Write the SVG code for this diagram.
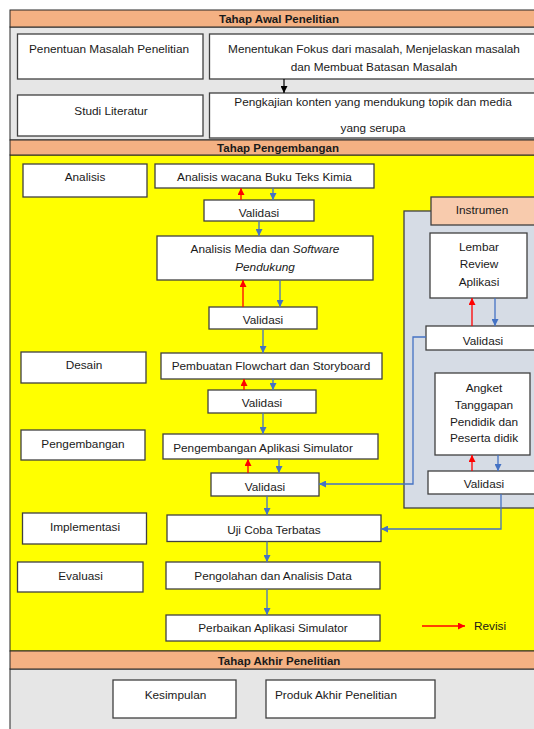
<svg xmlns="http://www.w3.org/2000/svg" width="534" height="729" viewBox="0 0 534 729">
<style>
text{font-family:"Liberation Sans",Arial,sans-serif;font-size:11.8px;fill:#1a1a1a;text-anchor:middle}
.h{font-weight:bold;font-size:11.5px}
.l{text-anchor:start}
.it{font-style:italic}
.box{fill:#fff;stroke:#404040;stroke-width:1.3}
.hdr{fill:#f4b183;stroke:#262626;stroke-width:1}
.b{stroke:#4472c4;stroke-width:1.3;fill:none}
.r{stroke:#ff0000;stroke-width:1.3;fill:none}
.k{stroke:#000;stroke-width:1.2;fill:none}
</style>
<defs>
<marker id="ab" viewBox="0 0 10 10" refX="10" refY="5" markerWidth="7" markerHeight="7" markerUnits="userSpaceOnUse" orient="auto"><path d="M0,0 L10,5 L0,10 z" fill="#4472c4"/></marker>
<marker id="ar" viewBox="0 0 10 10" refX="10" refY="5" markerWidth="7" markerHeight="7" markerUnits="userSpaceOnUse" orient="auto"><path d="M0,0 L10,5 L0,10 z" fill="#ff0000"/></marker>
<marker id="ak" viewBox="0 0 10 10" refX="10" refY="5" markerWidth="7" markerHeight="7" markerUnits="userSpaceOnUse" orient="auto"><path d="M0,0 L10,5 L0,10 z" fill="#000"/></marker>
</defs>
<rect width="534" height="729" fill="#fff"/>
<g id="sections">
<rect x="10" y="27" width="530" height="113" fill="#e6e6e6" stroke="#262626" stroke-width="1"/>
<rect x="10" y="155" width="530" height="496" fill="#ffff00" stroke="#262626" stroke-width="1"/>
<rect x="10" y="669" width="530" height="70" fill="#e6e6e6" stroke="#262626" stroke-width="1"/>
<rect class="hdr" x="10" y="10" width="530" height="17"/>
<text class="h" x="279" y="22.5">Tahap Awal Penelitian</text>
<rect class="hdr" x="10" y="140" width="530" height="15"/>
<text class="h" x="278" y="152">Tahap Pengembangan</text>
<rect class="hdr" x="10" y="651" width="530" height="18"/>
<text class="h" x="279" y="665">Tahap Akhir Penelitian</text>
</g>
<g id="n-penentuan"><rect class="box" x="17.5" y="34" width="185.5" height="45"/><text class="l" x="29" y="53">Penentuan Masalah Penelitian</text></g>
<g id="n-menentukan"><rect class="box" x="209.5" y="34" width="330" height="45"/><text x="374" y="53">Menentukan Fokus dari masalah, Menjelaskan masalah</text><text x="374" y="71">dan Membuat Batasan Masalah</text></g>
<g id="n-studi"><rect class="box" x="17.5" y="95" width="185.5" height="41"/><text x="111" y="115">Studi Literatur</text></g>
<g id="n-pengkajian"><rect class="box" x="209.5" y="93" width="330" height="45"/><text x="373" y="105.5">Pengkajian konten yang mendukung topik dan media</text><text x="373" y="132">yang serupa</text></g>
<g id="n-instrumen-panel"><rect x="404" y="211" width="136" height="297" fill="#d6dce5" stroke="#404040" stroke-width="1.3"/><rect x="431" y="197" width="109" height="28" fill="#f8cbad" stroke="#404040" stroke-width="1.3"/><text x="482" y="214">Instrumen</text></g>
<g id="n-analisis"><rect class="box" x="23" y="164" width="124" height="33"/><text x="85" y="181">Analisis</text></g>
<g id="n-wacana"><rect class="box" x="155" y="164" width="219" height="24"/><text x="264.5" y="181">Analisis wacana Buku Teks Kimia</text></g>
<g id="n-val1"><rect class="box" x="204" y="200" width="110" height="21"/><text x="259" y="217">Validasi</text></g>
<g id="n-media"><rect class="box" x="157" y="236" width="216" height="44"/><text x="265" y="253">Analisis Media dan <tspan class="it">Software</tspan></text><text class="it" x="265" y="271">Pendukung</text></g>
<g id="n-val2"><rect class="box" x="209" y="307" width="108" height="22"/><text x="263" y="324">Validasi</text></g>
<g id="n-desain"><rect class="box" x="21" y="352" width="125" height="31"/><text x="84" y="369">Desain</text></g>
<g id="n-flowchart"><rect class="box" x="161" y="353" width="221" height="26"/><text x="271" y="370">Pembuatan Flowchart dan Storyboard</text></g>
<g id="n-val3"><rect class="box" x="208" y="390" width="108" height="23"/><text x="262" y="407">Validasi</text></g>
<g id="n-pengembangan"><rect class="box" x="21" y="430" width="124" height="30"/><text x="83" y="448">Pengembangan</text></g>
<g id="n-aplikasi"><rect class="box" x="163" y="434" width="215" height="25"/><text x="263" y="452">Pengembangan Aplikasi Simulator</text></g>
<g id="n-val4"><rect class="box" x="211" y="473" width="108" height="23"/><text x="265" y="491">Validasi</text></g>
<g id="n-lembar"><rect class="box" x="430" y="233" width="97" height="65"/><text x="479" y="251">Lembar</text><text x="479" y="268">Review</text><text x="479" y="286">Aplikasi</text></g>
<g id="n-ival1"><rect class="box" x="426" y="326" width="114" height="24"/><text x="483" y="345">Validasi</text></g>
<g id="n-angket"><rect class="box" x="435" y="373" width="95" height="82"/><text x="484" y="392">Angket</text><text x="484" y="409">Tanggapan</text><text x="484" y="426">Pendidik dan</text><text x="484" y="442">Peserta didik</text></g>
<g id="n-ival2"><rect class="box" x="428" y="471" width="112" height="23"/><text x="484" y="488">Validasi</text></g>
<g id="n-implementasi"><rect class="box" x="22.5" y="513" width="124" height="31"/><text x="85" y="531">Implementasi</text></g>
<g id="n-ujicoba"><rect class="box" x="167" y="515" width="214" height="26.5"/><text x="274" y="533.5">Uji Coba Terbatas</text></g>
<g id="n-evaluasi"><rect class="box" x="17.5" y="562" width="125.5" height="30"/><text x="80.5" y="580">Evaluasi</text></g>
<g id="n-pengolahan"><rect class="box" x="166" y="562" width="214" height="27"/><text x="273" y="580">Pengolahan dan Analisis Data</text></g>
<g id="n-perbaikan"><rect class="box" x="166" y="615" width="214" height="26"/><text x="273" y="632">Perbaikan Aplikasi Simulator</text></g>
<g id="n-kesimpulan"><rect class="box" x="113" y="680" width="123" height="38"/><text x="175.5" y="698.5">Kesimpulan</text></g>
<g id="n-produk"><rect class="box" x="266" y="680" width="169" height="38"/><text class="l" x="275" y="698.5">Produk Akhir Penelitian</text></g>
<g id="n-legend"><line class="r" x1="422" y1="626" x2="465" y2="626" marker-end="url(#ar)"/><text class="l" x="474" y="630">Revisi</text></g>
<g id="connectors">
<line class="k" x1="284" y1="79" x2="284" y2="93" marker-end="url(#ak)"/>
<line class="r" x1="241" y1="200" x2="241" y2="188" marker-end="url(#ar)"/>
<line class="b" x1="273" y1="188" x2="273" y2="200" marker-end="url(#ab)"/>
<line class="b" x1="259" y1="221" x2="259" y2="236" marker-end="url(#ab)"/>
<line class="r" x1="243" y1="307" x2="243" y2="280" marker-end="url(#ar)"/>
<line class="b" x1="280" y1="280" x2="280" y2="307" marker-end="url(#ab)"/>
<line class="b" x1="263" y1="329" x2="263" y2="353" marker-end="url(#ab)"/>
<line class="r" x1="244" y1="390" x2="244" y2="379" marker-end="url(#ar)"/>
<line class="b" x1="273" y1="379" x2="273" y2="390" marker-end="url(#ab)"/>
<line class="b" x1="263" y1="413" x2="263" y2="434" marker-end="url(#ab)"/>
<line class="r" x1="248" y1="473" x2="248" y2="459" marker-end="url(#ar)"/>
<line class="b" x1="279" y1="459" x2="279" y2="473" marker-end="url(#ab)"/>
<polyline class="b" points="426,337 413,337 413,484 319,484" marker-end="url(#ab)"/>
<line class="r" x1="472" y1="326" x2="472" y2="298" marker-end="url(#ar)"/>
<line class="b" x1="495" y1="298" x2="495" y2="326" marker-end="url(#ab)"/>
<line class="r" x1="472" y1="471" x2="472" y2="455" marker-end="url(#ar)"/>
<line class="b" x1="498" y1="455" x2="498" y2="471" marker-end="url(#ab)"/>
<line class="b" x1="267" y1="496" x2="267" y2="515" marker-end="url(#ab)"/>
<polyline class="b" points="501,494 501,529 381,529" marker-end="url(#ab)"/>
<line class="b" x1="267" y1="541.5" x2="267" y2="562" marker-end="url(#ab)"/>
<line class="b" x1="267" y1="589" x2="267" y2="615" marker-end="url(#ab)"/>
</g>
</svg>
